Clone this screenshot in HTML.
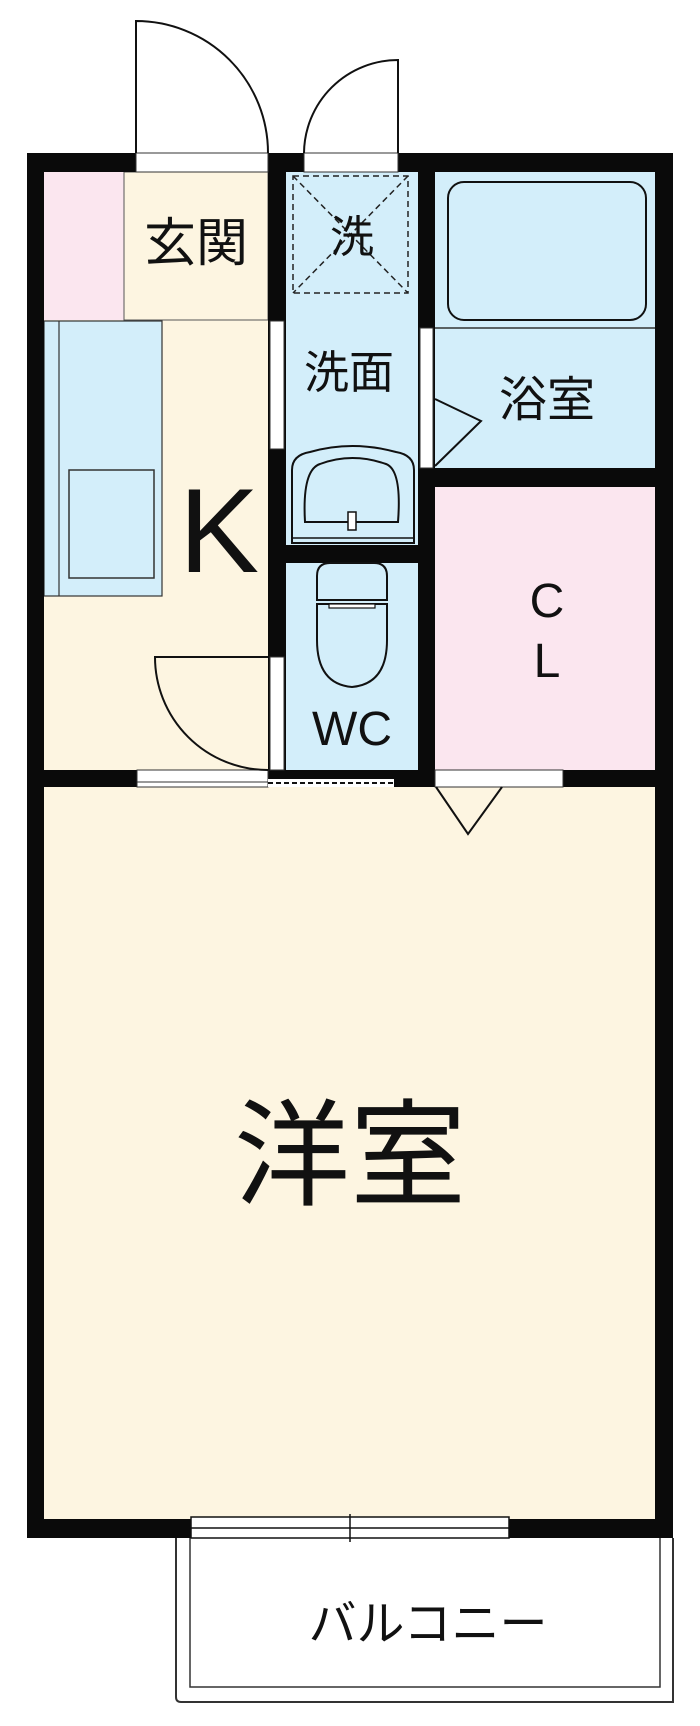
<!DOCTYPE html>
<html><head><meta charset="utf-8"><style>
html,body{margin:0;padding:0;background:#fff}
svg{display:block}
text{font-family:"Liberation Sans","Noto Sans CJK JP",sans-serif;fill:#111}
</style></head><body>
<svg width="700" height="1726" viewBox="0 0 700 1726" xmlns="http://www.w3.org/2000/svg">
<!-- room fills -->
<rect x="44" y="172" width="224" height="598" fill="#fdf5e1"/>
<rect x="44" y="172" width="80" height="148" fill="#fbe6ef"/>
<rect x="124" y="172" width="144" height="148" fill="#fdf5e1" stroke="#555" stroke-width="1"/>
<rect x="44" y="321" width="118" height="275" fill="#d3eefa" stroke="#333" stroke-width="1.2"/>
<line x1="59" y1="321" x2="59" y2="596" stroke="#333" stroke-width="1.2"/>
<rect x="69" y="470" width="85" height="108" fill="#d3eefa" stroke="#333" stroke-width="1.5"/>
<rect x="286" y="172" width="132" height="373" fill="#d3eefa"/>
<rect x="286" y="563" width="132" height="207" fill="#d3eefa"/>
<rect x="435" y="172" width="220" height="296" fill="#d3eefa"/>
<line x1="435" y1="328" x2="655" y2="328" stroke="#333" stroke-width="1.5"/>
<rect x="435" y="487" width="220" height="283" fill="#fbe6ef"/>
<rect x="44" y="787" width="611" height="732" fill="#fdf5e1"/>

<!-- walls -->
<g fill="#0a0a0a">
<rect x="27" y="153" width="646" height="19"/>
<rect x="27" y="153" width="17" height="1385"/>
<rect x="655" y="153" width="18" height="1385"/>
<rect x="27" y="1519" width="646" height="19"/>
<rect x="27" y="770" width="646" height="17"/>
<rect x="268" y="153" width="18" height="634"/>
<rect x="418" y="153" width="17" height="634"/>
<rect x="268" y="545" width="167" height="18"/>
<rect x="418" y="468" width="255" height="19"/>
</g>

<!-- openings -->
<rect x="136" y="153" width="132" height="19" fill="#fff" stroke="#333" stroke-width="1"/>
<rect x="304" y="153" width="94" height="19" fill="#fff" stroke="#333" stroke-width="1"/>
<rect x="270" y="321" width="14" height="128" fill="#fff" stroke="#333" stroke-width="1"/>
<rect x="420" y="328" width="13" height="140" fill="#fff" stroke="#333" stroke-width="1"/>
<rect x="270" y="657" width="14" height="113" fill="#fff" stroke="#333" stroke-width="1"/>
<rect x="137" y="770" width="131" height="17" fill="#fff" stroke="#333" stroke-width="1"/>
<line x1="137" y1="782" x2="268" y2="782" stroke="#333" stroke-width="1"/>
<rect x="268" y="779" width="126" height="8" fill="#fff"/>
<line x1="268" y1="783" x2="394" y2="783" stroke="#111" stroke-width="2" stroke-dasharray="5,3"/>
<rect x="435" y="770" width="128" height="17" fill="#fff" stroke="#333" stroke-width="1"/>

<!-- doors -->
<g fill="none" stroke="#111" stroke-width="2">
<path d="M136 153 V21 A132 132 0 0 1 268 153"/>
<path d="M398 153 V60 A94 94 0 0 0 304 153"/>
<path d="M268 657 H155 A113 113 0 0 0 268 770"/>
<path d="M435 399 L481 421 L435 466"/>
<path d="M436 787 L468 834 L502 787"/>
</g>

<!-- washing machine dashed -->
<g fill="none" stroke="#222" stroke-width="1.5" stroke-dasharray="6,4">
<rect x="293" y="176" width="115" height="117"/>
<line x1="293" y1="176" x2="408" y2="293"/>
<line x1="408" y1="176" x2="293" y2="293"/>
</g>

<!-- bathtub -->
<rect x="448" y="182" width="198" height="138" rx="16" fill="#d3eefa" stroke="#111" stroke-width="2"/>

<!-- sink -->
<path d="M292 543 V470 Q292 455 310 452 Q352 440 396 452 Q414 455 414 470 V543 Z" fill="#d3eefa" stroke="#111" stroke-width="2"/>
<line x1="292" y1="538" x2="414" y2="538" stroke="#111" stroke-width="1.5"/>
<path d="M305 522 Q302 470 320 464 Q352 452 386 464 Q402 470 398 522 Z" fill="#d3eefa" stroke="#111" stroke-width="2"/>
<rect x="348" y="512" width="8" height="18" fill="#fff" stroke="#111" stroke-width="1.5"/>

<!-- toilet -->
<path d="M317 600 V576 Q317 563 330 563 H374 Q387 563 387 576 V600 Z" fill="#d3eefa" stroke="#111" stroke-width="2"/>
<path d="M317 604 H387 V640 Q387 684 352 687 Q317 684 317 640 Z" fill="#d3eefa" stroke="#111" stroke-width="2"/>
<rect x="329" y="604" width="46" height="4" fill="#fff" stroke="#111" stroke-width="1.2"/>

<!-- balcony -->
<rect x="191" y="1517" width="318" height="21" fill="#fff" stroke="#111" stroke-width="1.5"/>
<line x1="191" y1="1528" x2="509" y2="1528" stroke="#111" stroke-width="1.5"/>
<line x1="350" y1="1514" x2="350" y2="1542" stroke="#111" stroke-width="1.5"/>
<path d="M176 1538 V1697 Q176 1702 181 1702 H673 V1538" fill="none" stroke="#333" stroke-width="2"/>
<path d="M190 1538 V1687 H660 V1538" fill="none" stroke="#333" stroke-width="1.5"/>

<!-- labels -->
<g text-anchor="middle">
<text x="196" y="261" font-size="52">玄関</text>
<text x="352" y="252" font-size="44">洗</text>
<text x="349" y="388" font-size="45">洗面</text>
<text x="547" y="416" font-size="48">浴室</text>
<text x="219" y="572" font-size="120">K</text>
<text x="352" y="745" font-size="48">WC</text>
<text x="547" y="617" font-size="48">C</text>
<text x="547" y="677" font-size="48">L</text>
<text x="350" y="1196" font-size="116">洋室</text>
<text x="428" y="1640" font-size="48">バルコニー</text>
</g>
</svg>
</body></html>
